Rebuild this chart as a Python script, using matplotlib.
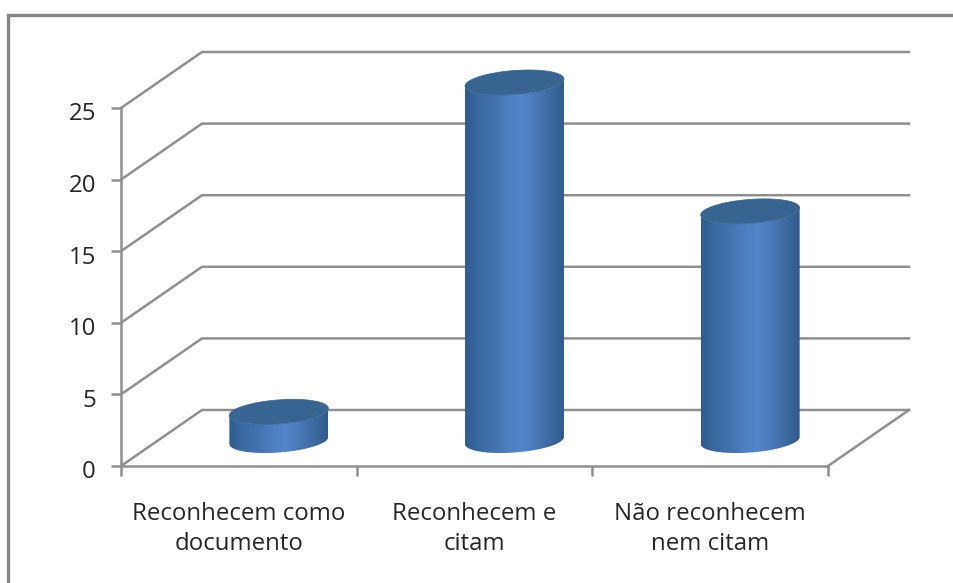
import numpy as np
import matplotlib
matplotlib.use("Agg")
import matplotlib.pyplot as plt
from matplotlib.lines import Line2D
from matplotlib.patches import Polygon
from matplotlib.colors import LinearSegmentedColormap
from matplotlib.transforms import ScaledTranslation

categories = ["Reconhecem como\ndocumento", "Reconhecem e\ncitam", "Não reconhecem\nnem citam"]
values = [2, 25, 16]
y_ticks = [0, 5, 10, 15, 20, 25]

W, H = 954, 583
GRID = "#8f8f8f"
TEXT = "#262626"
TOPC = "#386492"
plt.rcParams["font.family"] = ["Open Sans", "DejaVu Sans"]

fig = plt.figure(figsize=(W / 100, H / 100), dpi=100, facecolor="white")
L, R, T, B = 121, 828, 108, 466
ax = fig.add_axes([L / W, 1 - B / H, (R - L) / W, (B - T) / H])
ax.set_xlim(0, len(categories))
ax.set_ylim(0, 25)
ax.patch.set_visible(False)
for s in ("top", "right"):
    ax.spines[s].set_visible(False)
for s in ("left", "bottom"):
    ax.spines[s].set_color(GRID)
    ax.spines[s].set_linewidth(1.8)

ax.set_yticks(y_ticks)
ax.set_xticks(range(len(categories) + 1))
ax.set_xticklabels([])
ax.set_xticks(np.arange(len(categories)) + 0.5, minor=True)
ax.set_xticklabels(categories, minor=True, fontsize=17.3, color=TEXT, linespacing=1.35)
ax.tick_params(axis="x", which="major", length=7, width=1.8, color=GRID)
ax.tick_params(axis="x", which="minor", length=0, pad=26)
ax.tick_params(axis="y", length=7, width=1.8, color=GRID, labelsize=17.3, labelcolor=TEXT, pad=11)
for lab in ax.get_yticklabels():
    lab.set_transform(lab.get_transform() + ScaledTranslation(0, -2.5 / 72, fig.dpi_scale_trans))

# pixel -> data scales
px = len(categories) / (R - L)
py = 25 / (B - T)
dep_x, dep_y = 81 * px, 56 * py      # wall depth
mid_x, mid_y = 40 * px, 25.5 * py    # bar depth

# walls / gridlines
n = len(categories)
for v in y_ticks:
    ax.plot([0, dep_x, n + dep_x], [v, v + dep_y, v + dep_y], color=GRID, lw=1.8,
            clip_on=False, zorder=1, solid_joinstyle="miter")
ax.plot([n, n + dep_x], [0, dep_y], color=GRID, lw=1.8, clip_on=False, zorder=1)

# cylinders
a_px, b_px, tilt = 49.5, 12.0, np.deg2rad(-2.0)
shear = np.tan(np.deg2rad(4.0))
t = np.linspace(0, 2 * np.pi, 241)
ex = a_px * np.cos(t) * np.cos(tilt) - b_px * np.sin(t) * np.sin(tilt)
ey = b_px * np.sin(t) + ex * shear


def ellipse(cx, cy):
    return cx + ex * px, cy + ey * py


cmap = LinearSegmentedColormap.from_list(
    "cyl", ["#2f5c90", "#3a6aa2", "#4272ae", "#4d7fc0", "#5286ca", "#4a7ab8", "#3d6ba0", "#2f5a8c"])
grad = np.linspace(0, 1, 256)[None, :]

for i, v in enumerate(values):
    cx = i + 0.5 + mid_x
    x0, y0 = ellipse(cx, mid_y)
    x1, y1 = ellipse(cx, v + mid_y)
    il, ir = np.argmin(ex), np.argmax(ex)
    lo = sorted([il, ir])
    lower = np.arange(lo[0], lo[1] + 1) if ey[(lo[0] + lo[1]) // 2] < 0 else np.r_[np.arange(lo[1], len(t)), np.arange(0, lo[0] + 1)]
    if ex[lower[0]] > ex[lower[-1]]:
        lower = lower[::-1]
    xs = np.r_[x0[lower], x1[lower][::-1]]
    ys = np.r_[y0[lower], y1[lower][::-1]]
    body = Polygon(np.c_[xs, ys], closed=True, facecolor="none", edgecolor="none",
                   transform=ax.transData)
    ax.add_patch(body)
    body.set_clip_on(False)
    xa, xb = cx - a_px * px, cx + a_px * px
    im = ax.imshow(grad, cmap=cmap, extent=[xa, xb, y0.min(), y1.max()], aspect="auto",
                   zorder=3, interpolation="bilinear")
    im.set_clip_box(fig.bbox)
    im.set_clip_path(body)
    ax.fill(x1, y1, color=TOPC, lw=0.5, clip_on=False, zorder=4)

ax.set_xlim(0, n)
ax.set_ylim(0, 25)

# outer chart frame (left and top only visible)
fx, fy = 8 / W, 1 - 15 / H
fig.add_artist(Line2D([fx, fx, 1], [0, fy, fy], transform=fig.transFigure, color="#868686",
                      lw=2.4, solid_joinstyle="miter"))

fig.savefig("out.png", dpi=100, facecolor="white")
